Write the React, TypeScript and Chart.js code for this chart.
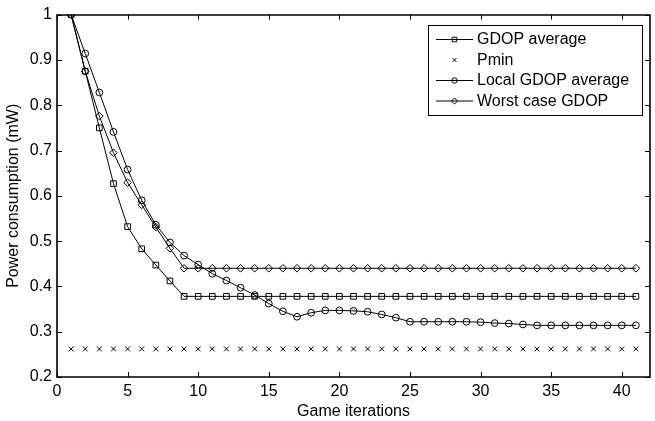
import React, { useEffect, useRef } from 'react';
import { Chart, registerables } from 'chart.js';

Chart.register(...registerables);

const iterations = [1, 2, 3, 4, 5, 6, 7, 8, 9, 10, 11, 12, 13, 14, 15, 16, 17, 18, 19, 20, 21, 22, 23, 24, 25, 26, 27, 28, 29, 30, 31, 32, 33, 34, 35, 36, 37, 38, 39, 40, 41];

const gdopAverage = [1, 0.875, 0.75, 0.627, 0.532, 0.483, 0.447, 0.412, 0.378, 0.378, 0.378, 0.378, 0.378, 0.378, 0.378, 0.378, 0.378, 0.378, 0.378, 0.378, 0.378, 0.378, 0.378, 0.378, 0.378, 0.378, 0.378, 0.378, 0.378, 0.378, 0.378, 0.378, 0.378, 0.378, 0.378, 0.378, 0.378, 0.378, 0.378, 0.378, 0.378];

const pmin = [0.262, 0.262, 0.262, 0.262, 0.262, 0.262, 0.262, 0.262, 0.262, 0.262, 0.262, 0.262, 0.262, 0.262, 0.262, 0.262, 0.262, 0.262, 0.262, 0.262, 0.262, 0.262, 0.262, 0.262, 0.262, 0.262, 0.262, 0.262, 0.262, 0.262, 0.262, 0.262, 0.262, 0.262, 0.262, 0.262, 0.262, 0.262, 0.262, 0.262, 0.262];

const localGdopAverage = [1, 0.914, 0.828, 0.741, 0.658, 0.59, 0.536, 0.497, 0.468, 0.448, 0.428, 0.413, 0.397, 0.381, 0.362, 0.345, 0.333, 0.342, 0.347, 0.347, 0.346, 0.344, 0.338, 0.331, 0.322, 0.322, 0.322, 0.322, 0.322, 0.321, 0.319, 0.318, 0.316, 0.314, 0.314, 0.314, 0.314, 0.314, 0.314, 0.314, 0.314];

const worstCaseGdop = [1, 0.875, 0.776, 0.695, 0.629, 0.58, 0.531, 0.484, 0.44, 0.44, 0.44, 0.44, 0.44, 0.44, 0.44, 0.44, 0.44, 0.44, 0.44, 0.44, 0.44, 0.44, 0.44, 0.44, 0.44, 0.44, 0.44, 0.44, 0.44, 0.44, 0.44, 0.44, 0.44, 0.44, 0.44, 0.44, 0.44, 0.44, 0.44, 0.44, 0.44];

const xTicks = [0, 5, 10, 15, 20, 25, 30, 35, 40];
const yTicks = [0.2, 0.3, 0.4, 0.5, 0.6, 0.7, 0.8, 0.9, 1];

const seriesLabels = ['GDOP average', 'Pmin', 'Local GDOP average', 'Worst case GDOP'];

const FONT = "'Liberation Sans', Arial, Helvetica, sans-serif";

function drawMarker(ctx: CanvasRenderingContext2D, style: string, x: number, y: number, r: number) {
  ctx.beginPath();
  if (style === 'rect') {
    const s = Math.SQRT1_2 * r;
    ctx.rect(x - s, y - s, 2 * s, 2 * s);
  } else if (style === 'circle') {
    ctx.arc(x, y, r, 0, Math.PI * 2);
  } else if (style === 'rectRot') {
    ctx.moveTo(x, y - r);
    ctx.lineTo(x + r, y);
    ctx.lineTo(x, y + r);
    ctx.lineTo(x - r, y);
    ctx.closePath();
  } else if (style === 'crossRot') {
    const s = Math.SQRT1_2 * r;
    ctx.moveTo(x - s, y - s);
    ctx.lineTo(x + s, y + s);
    ctx.moveTo(x + s, y - s);
    ctx.lineTo(x - s, y + s);
  }
  ctx.stroke();
}

const framePlugin = {
  id: 'matlabFrame',
  beforeDatasetsDraw(chart: any) {
    const { ctx, chartArea } = chart;
    const { left, right, top, bottom } = chartArea;
    const xs = chart.scales.x;
    const ys = chart.scales.y;
    ctx.save();
    ctx.strokeStyle = '#000';
    ctx.lineWidth = 1.6;
    ctx.beginPath();
    ctx.rect(Math.round(left), Math.round(top), Math.round(right - left), Math.round(bottom - top));
    ctx.stroke();
    const tl = 5;
    ctx.lineWidth = 1;
    ctx.beginPath();
    xTicks.forEach((v) => {
      const px = Math.round(xs.getPixelForValue(v)) + 0.5;
      ctx.moveTo(px, bottom);
      ctx.lineTo(px, bottom - tl);
      ctx.moveTo(px, top);
      ctx.lineTo(px, top + tl);
    });
    yTicks.forEach((v) => {
      const py = Math.round(ys.getPixelForValue(v)) + 0.5;
      ctx.moveTo(left, py);
      ctx.lineTo(left + tl, py);
      ctx.moveTo(right, py);
      ctx.lineTo(right - tl, py);
    });
    ctx.stroke();
    ctx.restore();
  },
};

const legendPlugin = {
  id: 'matlabLegend',
  afterDatasetsDraw(chart: any) {
    const { ctx } = chart;
    const bx = 428.5, by = 25.5, bw = 214, bh = 90;
    ctx.save();
    ctx.fillStyle = '#fff';
    ctx.fillRect(bx, by, bw, bh);
    ctx.strokeStyle = '#000';
    ctx.lineWidth = 1;
    ctx.strokeRect(bx, by, bw, bh);
    chart.data.datasets.forEach((ds: any, i: number) => {
      const y = 39 + i * 20.5;
      ctx.strokeStyle = '#000';
      ctx.lineWidth = 1;
      if (ds.showLine !== false) {
        ctx.beginPath();
        ctx.moveTo(436, y + 0.5);
        ctx.lineTo(473, y + 0.5);
        ctx.stroke();
      }
      drawMarker(ctx, ds.pointStyle, 454.5, y + 0.5, ds.pointRadius * 0.8);
      ctx.fillStyle = '#000';
      ctx.font = `16px ${FONT}`;
      ctx.textBaseline = 'middle';
      ctx.textAlign = 'left';
      ctx.fillText(ds.label, 477, y + 1);
    });
    ctx.restore();
  },
};

function toPoints(values: number[]) {
  return iterations.map((x, i) => ({ x, y: values[i] }));
}

export default function App() {
  const ref = useRef<HTMLCanvasElement>(null);
  useEffect(() => {
    document.body.style.margin = '0';
    const canvas = ref.current!;
    const base = {
      borderColor: '#000',
      borderWidth: 1,
      pointBorderColor: '#000',
      pointBackgroundColor: 'rgba(0,0,0,0)',
      pointBorderWidth: 1,
      tension: 0,
    };
    const chart = new Chart(canvas, {
      type: 'line',
      data: {
        datasets: [
          { ...base, label: seriesLabels[0], data: toPoints(gdopAverage), pointStyle: 'rect', pointRadius: 4 },
          { ...base, label: seriesLabels[1], data: toPoints(pmin), pointStyle: 'crossRot', pointRadius: 3.4, showLine: false },
          { ...base, label: seriesLabels[2], data: toPoints(localGdopAverage), pointStyle: 'circle', pointRadius: 3.4 },
          { ...base, label: seriesLabels[3], data: toPoints(worstCaseGdop), pointStyle: 'rectRot', pointRadius: 3.8 },
        ] as any,
      },
      options: {
        responsive: false,
        animation: false,
        events: [],
        layout: { padding: { top: 10, right: -2, left: 0, bottom: 0 } },
        plugins: { legend: { display: false }, tooltip: { enabled: false } },
        scales: {
          x: {
            type: 'linear',
            min: 0,
            max: 42,
            grid: { display: false, drawTicks: false },
            border: { display: false },
            afterBuildTicks: (s: any) => {
              s.ticks = xTicks.map((v) => ({ value: v }));
            },
            afterFit: (s: any) => {
              s.height = 44;
            },
            ticks: {
              color: '#000',
              font: { family: FONT, size: 16 },
              padding: 5,
              maxRotation: 0,
              autoSkip: false,
            },
            title: {
              display: true,
              text: 'Game iterations',
              color: '#000',
              font: { family: FONT, size: 16 },
              padding: { top: 2, bottom: 0 },
            },
          },
          y: {
            type: 'linear',
            min: 0.2,
            max: 1,
            grid: { display: false, drawTicks: false },
            border: { display: false },
            afterBuildTicks: (s: any) => {
              s.ticks = yTicks.map((v) => ({ value: v }));
            },
            afterFit: (s: any) => {
              s.width = 57;
            },
            ticks: {
              color: '#000',
              font: { family: FONT, size: 16 },
              padding: 5,
              callback: (v: any) => String(Math.round(Number(v) * 10) / 10),
            },
            title: {
              display: true,
              text: 'Power consumption (mW)',
              color: '#000',
              font: { family: FONT, size: 16 },
              padding: { top: 4, bottom: 0 },
            },
          },
        },
      } as any,
      plugins: [framePlugin, legendPlugin],
    });
    return () => chart.destroy();
  }, []);
  return (
    <div style={{ width: 655, height: 421 }}>
      <canvas ref={ref} width={655} height={421} style={{ display: 'block' }} />
    </div>
  );
}
